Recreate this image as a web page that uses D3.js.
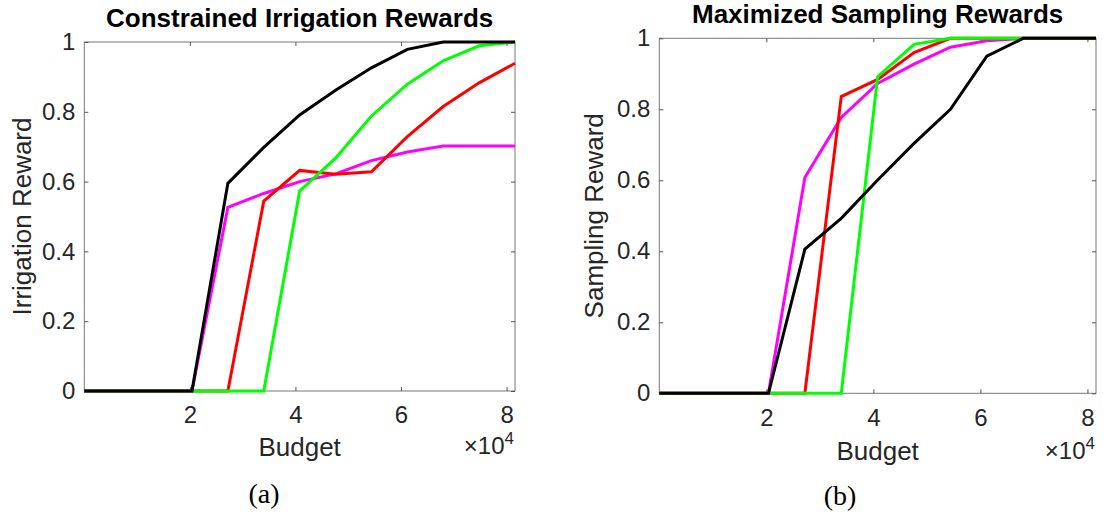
<!DOCTYPE html>
<html>
<head>
<meta charset="utf-8">
<script src="https://cdn.jsdelivr.net/npm/d3@7"></script>
<style>
  body { margin: 0; background: #fff; }
  svg text { fill: #262626; }
</style>
</head>
<body>
<svg id="chart" width="1104" height="519"></svg>
<script>
// budget steps (x values)
const budget = [0, 6800, 13600, 20400, 27200, 34000, 40800, 47600, 54400, 61200, 68000, 74800, 81600];
const xTicks = [20000, 40000, 60000, 80000];
const yTicks = [0, 0.2, 0.4, 0.6, 0.8, 1];

// (a) irrigation rewards
const irrMagenta = [0, 0, 0, 0, 0.526, 0.566, 0.600, 0.622, 0.660, 0.685, 0.702, 0.702, 0.702];
const irrRed = [0, 0, 0, 0, 0, 0.544, 0.632, 0.621, 0.628, 0.729, 0.815, 0.883, 0.939];
const irrGreen = [0, 0, 0, 0, 0, 0, 0.573, 0.667, 0.788, 0.879, 0.946, 0.989, 1];
const irrBlack = [0, 0, 0, 0, 0.595, 0.698, 0.791, 0.862, 0.926, 0.979, 1, 1, 1];

// (b) sampling rewards
const sampMagenta = [0, 0, 0, 0, 0.608, 0.777, 0.873, 0.927, 0.975, 0.993, 1, 1, 1];
const sampRed = [0, 0, 0, 0, 0, 0.836, 0.884, 0.960, 1, 1, 1, 1, 1];
const sampGreen = [0, 0, 0, 0, 0, 0, 0.892, 0.983, 1, 1, 1, 1, 1];
const sampBlack = [0, 0, 0, 0, 0.406, 0.493, 0.601, 0.704, 0.800, 0.950, 1, 1, 1];

const svg = d3.select('#chart');
const sans = 'Liberation Sans, Arial, sans-serif';

function drawPanel(p) {
    const x = d3.scaleLinear().domain([0, 81600]).range([p.left, p.right]);
    const y = d3.scaleLinear().domain([0, 1]).range([p.bottom, p.top]);
    const g = svg.append('g');

    // box
    g.append('rect')
        .attr('x', p.left).attr('y', p.top)
        .attr('width', p.right - p.left).attr('height', p.bottom - p.top)
        .attr('fill', 'none').attr('stroke', '#777').attr('stroke-width', 1);

    const fixAxis = (sel) => {
        sel.select('.domain').remove();
        sel.selectAll('.tick line').attr('stroke', '#555');
        sel.selectAll('.tick text')
            .attr('font-family', sans)
            .attr('font-size', 24);
    };

    g.append('g').attr('transform', `translate(0,${p.bottom})`)
        .call(d3.axisBottom(x).tickValues(xTicks).tickSize(-4).tickPadding(p.xPad)
            .tickFormat(d => d / 1e4))
        .call(fixAxis);
    g.append('g').attr('transform', `translate(0,${p.top})`)
        .call(d3.axisTop(x).tickValues(xTicks).tickSize(-4).tickFormat(''))
        .call(fixAxis);
    g.append('g').attr('transform', `translate(${p.left},0)`)
        .call(d3.axisLeft(y).tickValues(yTicks).tickSize(-4).tickPadding(9)
            .tickFormat(d3.format('~g')))
        .call(fixAxis);
    g.append('g').attr('transform', `translate(${p.right},0)`)
        .call(d3.axisRight(y).tickValues(yTicks).tickSize(-4).tickFormat(''))
        .call(fixAxis);

    const line = d3.line().x((d, i) => x(budget[i])).y(d => y(d));
    p.series.forEach(s => {
        g.append('path')
            .datum(s.values)
            .attr('d', line)
            .attr('fill', 'none')
            .attr('stroke', s.color)
            .attr('stroke-width', 3)
            .attr('stroke-linejoin', 'miter');
    });

    const mid = (p.left + p.right) / 2;
    g.append('text')
        .attr('x', mid).attr('y', p.titleY)
        .attr('text-anchor', 'middle')
        .attr('font-family', sans)
        .attr('font-weight', 'bold').attr('font-size', 26)
        .style('fill', '#000')
        .text(p.title);

    g.append('text')
        .attr('transform', `translate(${p.yLabelX},${(p.top + p.bottom) / 2}) rotate(-90)`)
        .attr('text-anchor', 'middle')
        .attr('font-family', sans)
        .attr('font-size', 26)
        .text(p.yLabel);

    g.append('text')
        .attr('x', mid).attr('y', p.xLabelY)
        .attr('text-anchor', 'middle')
        .attr('font-family', sans)
        .attr('font-size', 26)
        .text('Budget');

    // exponent marker
    const exp = g.append('text')
        .attr('x', p.right - 1).attr('y', p.expY)
        .attr('text-anchor', 'end')
        .attr('font-family', sans)
        .attr('font-size', 24);
    exp.append('tspan').text('\u00d710');
    exp.append('tspan').attr('dy', -10).attr('font-size', 17).text('4');

    g.append('text')
        .attr('x', p.capX).attr('y', p.capY)
        .attr('text-anchor', 'middle')
        .attr('font-family', 'Liberation Serif, Times New Roman, serif')
        .attr('font-size', 28)
        .style('fill', '#000')
        .text(p.caption);
}

drawPanel({
    left: 84.3, right: 515, top: 42, bottom: 391,
    xPad: 15, titleY: 27, yLabelX: 31, xLabelY: 456, expY: 454,
    capX: 264, capY: 503,
    title: 'Constrained Irrigation Rewards', yLabel: 'Irrigation Reward', caption: '(a)',
    series: [
        { color: '#ff00ff', values: irrMagenta },
        { color: '#ff0000', values: irrRed },
        { color: '#00ff00', values: irrGreen },
        { color: '#000000', values: irrBlack }
    ]
});

drawPanel({
    left: 659.3, right: 1096, top: 38.3, bottom: 393.3,
    xPad: 16, titleY: 23, yLabelX: 603, xLabelY: 460, expY: 459,
    capX: 840, capY: 505,
    title: 'Maximized Sampling Rewards', yLabel: 'Sampling Reward', caption: '(b)',
    series: [
        { color: '#ff00ff', values: sampMagenta },
        { color: '#ff0000', values: sampRed },
        { color: '#00ff00', values: sampGreen },
        { color: '#000000', values: sampBlack }
    ]
});
</script>
</body>
</html>
